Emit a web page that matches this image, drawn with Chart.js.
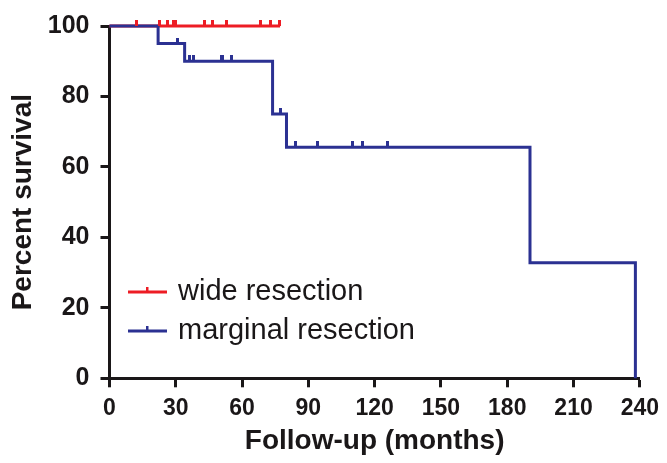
<!DOCTYPE html>
<html>
<head>
<meta charset="utf-8">
<script src="https://cdn.jsdelivr.net/npm/chart.js@4/dist/chart.umd.min.js"></script>
<style>
html,body{margin:0;padding:0;background:#fff;}
#wrap{position:relative;width:667px;height:463px;}
</style>
</head>
<body>
<div id="wrap"><canvas id="c" width="667" height="463"></canvas></div>
<script>
// ---- data ----
const seriesNames = ['wide resection', 'marginal resection'];
const xTicks = [0, 30, 60, 90, 120, 150, 180, 210, 240];
const yTicks = [0, 20, 40, 60, 80, 100];

const wideTimes = [0, 77.2];
const wideSurv = [100, 100];
const wideCensor = [12.3, 22.8, 26.2, 28.8, 30.0, 43.0, 46.8, 52.8, 68.2, 73.0, 76.8];

const margTimes = [0, 22.0, 34.0, 73.8, 80.1, 190.3, 238.0];
const margSurv = [100, 95, 90, 75, 65.6, 32.8, 0];
const margCensor = [31.0, 36.0, 38.1, 50.5, 51.1, 55.0, 77.5, 84.0, 94.0, 110.1, 114.3, 126.0];

const RED = '#ed1c24';
const BLUE = '#2b3192';
const INK = '#1a1718';
const FONT = "'Liberation Sans', Arial, Helvetica, sans-serif";

function levelAt(times, surv, t) {
  let v = surv[0];
  for (let i = 0; i < times.length; i++) { if (times[i] <= t) v = surv[i]; }
  return v;
}
function tickImage(color) {
  const c = document.createElement('canvas');
  c.width = 3; c.height = 12;
  const g = c.getContext('2d');
  g.fillStyle = color;
  g.fillRect(0, 0, 3, 6);
  return c;
}
const redTick = tickImage(RED);
const blueTick = tickImage(BLUE);

const toPts = (ts, vs) => ts.map((t, i) => ({x: t, y: vs[i]}));

const legendPlugin = {
  id: 'kmLegend',
  afterDraw(chart) {
    const ctx = chart.ctx;
    const items = [{name: seriesNames[0], color: RED, y: 292}, {name: seriesNames[1], color: BLUE, y: 331}];
    ctx.save();
    items.forEach(it => {
      ctx.strokeStyle = it.color;
      ctx.lineWidth = 3;
      ctx.beginPath(); ctx.moveTo(128, it.y); ctx.lineTo(167, it.y); ctx.stroke();
      ctx.fillStyle = it.color;
      ctx.fillRect(146, it.y - 5, 2.5, 5);
      ctx.fillStyle = INK;
      ctx.font = "29px " + FONT;
      ctx.textBaseline = 'middle';
      ctx.textAlign = 'left';
      ctx.fillText(it.name, 178, it.y);
    });
    ctx.restore();
  }
};

new Chart(document.getElementById('c'), {
  type: 'line',
  data: {
    datasets: [
      { label: seriesNames[0] + ' censored', data: wideCensor.map(t => ({x: t, y: levelAt(wideTimes, wideSurv, t)})),
        showLine: false, pointStyle: redTick, pointRadius: 6, order: 0, clip: false },
      { label: seriesNames[1] + ' censored', data: margCensor.map(t => ({x: t, y: levelAt(margTimes, margSurv, t)})),
        showLine: false, pointStyle: blueTick, pointRadius: 6, order: 1, clip: false },
      { label: seriesNames[1], data: toPts(margTimes, margSurv), stepped: true, borderColor: BLUE,
        borderWidth: 3, pointRadius: 0, fill: false, order: 2, clip: false },
      { label: seriesNames[0], data: toPts(wideTimes, wideSurv), stepped: true, borderColor: RED,
        borderWidth: 3, pointRadius: 0, fill: false, order: 3, clip: false }
    ]
  },
  options: {
    responsive: false,
    animation: false,
    devicePixelRatio: 1,
    layout: { padding: { left: 0, right: 24, top: 24, bottom: 0 } },
    plugins: { legend: { display: false }, tooltip: { enabled: false } },
    scales: {
      x: {
        type: 'linear', min: 0, max: 240,
        afterBuildTicks(s) { s.ticks = xTicks.map(v => ({value: v})); },
        afterFit(s) { s.height = 84.7; },
        border: { color: INK, width: 3 },
        grid: { drawOnChartArea: false, drawTicks: true, tickLength: 9, tickWidth: 3, tickColor: INK },
        ticks: { color: INK, font: { family: FONT, size: 23, weight: 'bold' }, padding: 8, maxRotation: 0 },
        title: { display: true, text: 'Follow-up (months)', color: INK,
                 font: { family: FONT, size: 28, weight: 'bold' }, padding: { top: 0, bottom: 5 } }
      },
      y: {
        type: 'linear', min: 0, max: 100,
        afterBuildTicks(s) { s.ticks = yTicks.map(v => ({value: v})); },
        afterFit(s) { s.width = 109.5; },
        border: { color: INK, width: 3 },
        grid: { drawOnChartArea: false, drawTicks: true, tickLength: 9, tickWidth: 3, tickColor: INK },
        ticks: { color: INK, font: { family: FONT, size: 25, weight: 'bold' }, padding: 11 },
        title: { display: true, text: 'Percent survival', color: INK,
                 font: { family: FONT, size: 28, weight: 'bold' }, padding: { top: 6, bottom: 0 } }
      }
    }
  },
  plugins: [legendPlugin]
});
</script>
</body>
</html>
